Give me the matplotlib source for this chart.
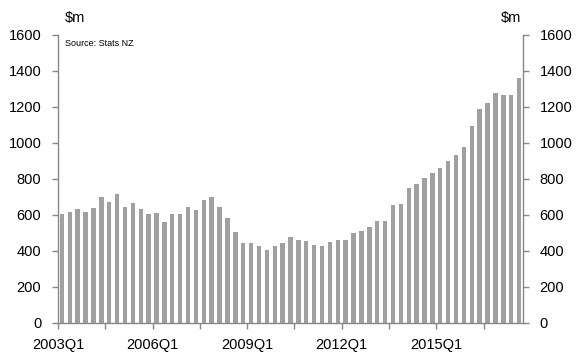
"""
Quarterly values ($m), 2003Q1 - 2017Q3, bar chart with axis on both sides
"""

import matplotlib
matplotlib.use("Agg")
from matplotlib import pyplot as plt
import numpy as np

plt.rcParams["font.family"] = ["Liberation Sans", "DejaVu Sans"]

# Data
years = list(range(2003, 2018))
quarters = [f"{y}Q{q}" for y in years for q in range(1, 5)][:59]
values = [604, 613, 635, 613, 639, 700, 672, 715, 644, 663,
          632, 606, 609, 561, 606, 606, 643, 628, 682, 697,
          643, 583, 504, 444, 441, 426, 404, 426, 444, 474,
          459, 456, 432, 428, 448, 459, 459, 500, 511, 533,
          567, 567, 655, 658, 750, 774, 802, 830, 858, 898,
          932, 978, 1093, 1187, 1222, 1278, 1265, 1265, 1361]
label_quarters = ["2003Q1", "2006Q1", "2009Q1", "2012Q1", "2015Q1"]
yticks = [0, 200, 400, 600, 800, 1000, 1200, 1400, 1600]

axis_grey = "#878787"

fig = plt.figure(figsize=(5.76, 3.52), dpi=100)
ax = fig.add_axes([0.1007, 0.0832, 0.8073, 0.8174])

x = np.arange(len(values))
ax.bar(x, values, width=0.56, color="#a0a0a0", zorder=2)

ax.set_xlim(-0.5, len(values) - 0.5)
ax.set_ylim(0, 1600)
ax.set_yticks(yticks)
ax.set_yticklabels([str(v) for v in yticks])

# bottom ticks on quarter boundaries every 6 quarters, labels every 12
tick_pos = np.arange(-0.5, len(values), 6)
ax.set_xticks(tick_pos)
tick_labels = []
for p in tick_pos:
    q = quarters[int(p + 0.5)] if int(p + 0.5) < len(quarters) else ""
    tick_labels.append(q if q in label_quarters else "")
ax.set_xticklabels(tick_labels)

for side in ["left", "right", "bottom"]:
    ax.spines[side].set_color(axis_grey)
    ax.spines[side].set_linewidth(1.0)
ax.spines["top"].set_visible(False)

ax.tick_params(axis="y", left=True, right=True, labelleft=True, labelright=True,
               direction="out", length=4, width=1, color=axis_grey,
               labelsize=10.5, pad=8)
ax.tick_params(axis="x", direction="out", length=4, width=1, color=axis_grey,
               labelsize=10.5, pad=7)

fig.text(65 / 576, 1 - 18 / 352, "$m", fontsize=10.5, va="center", ha="left")
fig.text(521 / 576, 1 - 18 / 352, "$m", fontsize=10.5, va="center", ha="right")
ax.text(0.015, 0.985, "Source: Stats NZ", transform=ax.transAxes,
        fontsize=6.5, va="top", ha="left")

plt.savefig("out.png", dpi=100)
